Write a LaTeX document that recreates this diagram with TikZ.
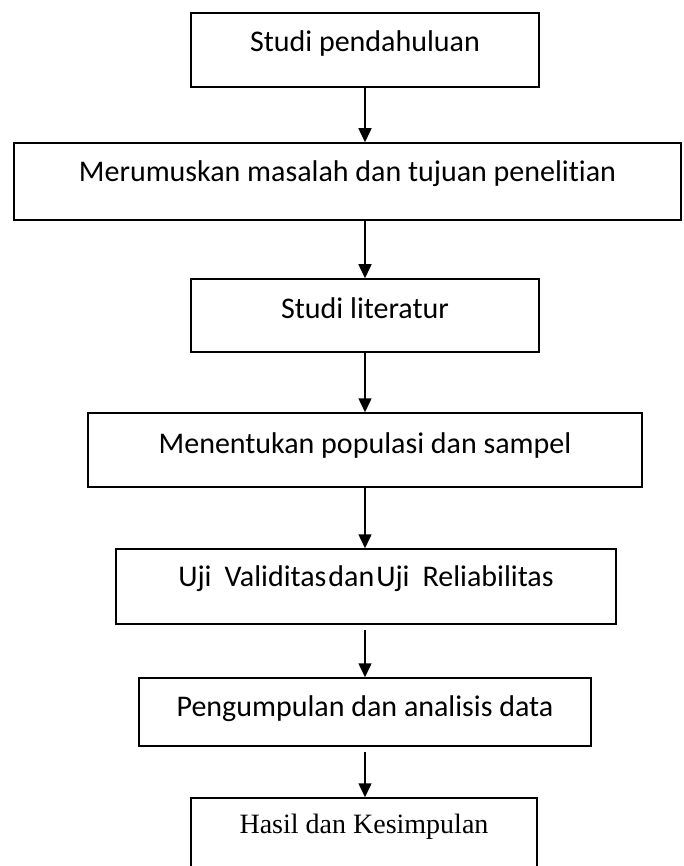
\documentclass[tikz,border=0pt]{standalone}
\usepackage{fontspec}
\setmainfont{Carlito}[Ligatures={NoCommon}]
\newfontfamily\serifTNR{Liberation Serif}
\usetikzlibrary{arrows.meta}

\tikzset{
  kotak/.style={draw, line width=1.5pt, inner sep=0pt, font=\fontsize{30}{36}\selectfont},
  panah/.style={line width=1.5pt, -{Triangle[width=13pt,length=14pt]}}
}

\begin{document}
\begin{tikzpicture}[x=1pt, y=-1pt]
    % batas gambar
    \useasboundingbox (0,0) rectangle (683,866);
    \clip (0,0) rectangle (683,866);

    % garis tengah untuk panah
    \coordinate (ax) at (365,0);

    % kotak-kotak langkah penelitian
    \node[kotak, minimum width=348pt, minimum height=74pt, text height=39pt, text depth=35pt] (b1) at (365,50) {Studi pendahuluan};
    \node[kotak, minimum width=667pt, minimum height=77pt, text height=39pt, text depth=38pt] (b2) at (347.5,181.5) {Merumuskan masalah dan tujuan penelitian};
    \node[kotak, minimum width=348pt, minimum height=73pt, text height=39pt, text depth=34pt] (b3) at (365,315.5) {Studi literatur};
    \node[kotak, minimum width=554pt, minimum height=74pt, text height=40pt, text depth=34pt] (b4) at (365,450) {Menentukan populasi dan sampel};
    \node[kotak, minimum width=500pt, minimum height=75pt, text height=37pt, text depth=38pt] (b5) at (366,586.5) {Uji\hspace{13pt}Validitas\hspace{2pt}dan\hspace{2pt}Uji\hspace{13pt}Reliabilitas};
    \node[kotak, minimum width=452pt, minimum height=68pt, text height=38pt, text depth=30pt] (b6) at (365,712) {Pengumpulan dan analisis data};
    \node[kotak, minimum width=346pt, minimum height=72pt, text height=35pt, text depth=37pt, font=\serifTNR\fontsize{28}{34}\selectfont] (b7) at (364,834) {Hasil dan Kesimpulan};

    % panah antar kotak
    \draw[panah] (b1.south -| ax) -- (b2.north -| ax);
    \draw[panah] (b2.south -| ax) -- (b3.north -| ax);
    \draw[panah] (b3.south -| ax) -- (b4.north -| ax);
    \draw[panah] (b4.south -| ax) -- (b5.north -| ax);
    \draw[panah, shorten <=5pt] (b5.south -| ax) -- (b6.north -| ax);
    \draw[panah, shorten <=5pt] (b6.south -| ax) -- (b7.north -| ax);
\end{tikzpicture}
\end{document}
